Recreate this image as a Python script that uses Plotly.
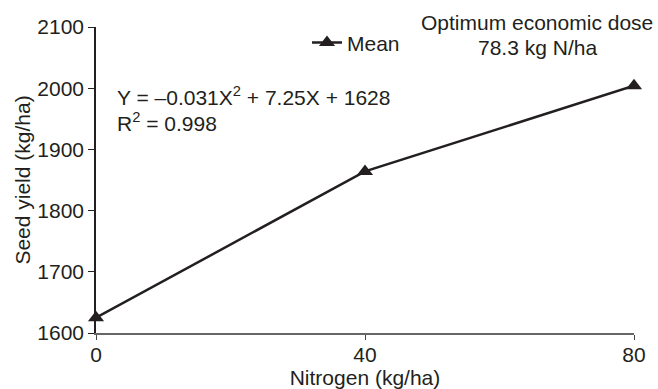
import plotly.graph_objects as go

nitrogen = [0, 40, 80]
seed_yield = [1625, 1864, 2004]
x_ticks = [0, 40, 80]
y_ticks = [1600, 1700, 1800, 1900, 2000, 2100]

ink = "#231f20"
font = "Liberation Sans, Arial, sans-serif"
FS = 21

# plot area in pixels: x 96..634, y 27..333
def py(p):
    return (333 - p) / 306.0

def px(p):
    return (p - 96) / 538.0

fig = go.Figure()
fig.add_trace(go.Scatter(
    x=nitrogen, y=seed_yield, mode="lines+markers", name="Mean",
    line=dict(color=ink, width=2.5),
    marker=dict(symbol="triangle-up", size=14, color=ink),
    cliponaxis=False,
))

fig.update_layout(
    width=658, height=389,
    margin=dict(l=96, r=24, t=27, b=56, autoexpand=False),
    paper_bgcolor="white", plot_bgcolor="white",
    font=dict(family=font, size=FS, color=ink),
    showlegend=True,
    legend=dict(x=px(307), y=1.015, xanchor="left", yanchor="top",
                bgcolor="rgba(0,0,0,0)", font=dict(size=FS),
                itemwidth=30, tracegroupgap=0),
    xaxis=dict(range=[0, 80], tickvals=x_ticks, showgrid=False, zeroline=False,
               showline=True, linecolor="#666666", linewidth=1.5,
               ticks="outside", ticklen=5, tickcolor="#444444", tickwidth=1.2,
               ticklabelstandoff=-3,
               title=dict(text="Nitrogen (kg/ha)", standoff=4, font=dict(size=FS))),
    yaxis=dict(range=[1600, 2100], tickvals=y_ticks, showgrid=False, zeroline=False,
               showline=True, linecolor=ink, linewidth=1.5,
               ticks="outside", ticklen=6, tickcolor=ink, tickwidth=1.2,
               title=dict(text="Seed yield (kg/ha)", standoff=1, font=dict(size=FS))),
)

fig.add_annotation(
    xref="paper", yref="paper", x=px(115), y=py(96), xanchor="left", yanchor="middle",
    text="Y = –0.031X<sup>2</sup> + 7.25X + 1628",
    showarrow=False, align="left", font=dict(size=FS, color=ink),
)
fig.add_annotation(
    xref="paper", yref="paper", x=px(115), y=py(122), xanchor="left", yanchor="middle",
    text="R<sup>2</sup> = 0.998",
    showarrow=False, align="left", font=dict(size=FS, color=ink),
)
fig.add_annotation(
    xref="paper", yref="paper", x=px(537), y=py(22), xanchor="center", yanchor="middle",
    text="Optimum economic dose",
    showarrow=False, font=dict(size=FS, color=ink),
)
fig.add_annotation(
    xref="paper", yref="paper", x=px(537), y=py(47), xanchor="center", yanchor="middle",
    text="78.3 kg N/ha",
    showarrow=False, font=dict(size=FS, color=ink),
)

fig.write_html("out.html", config={"displayModeBar": False},
               post_script="document.body.style.margin='0';")
